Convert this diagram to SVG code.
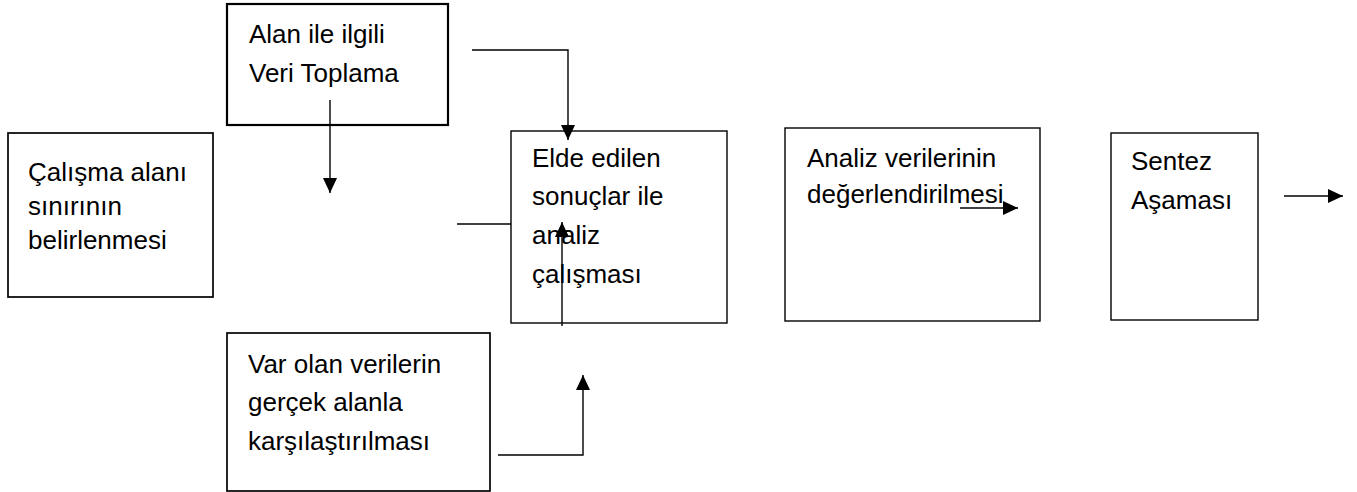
<svg xmlns="http://www.w3.org/2000/svg" width="1357" height="492" viewBox="0 0 1357 492">
<style>
  .box { fill: #ffffff; stroke: #000000; stroke-width: 1.4; }
  .thick { stroke-width: 2.2; }
  .mid { stroke-width: 1.7; }
  .lbl { font-family: "Liberation Sans", Arial, sans-serif; font-size: 26px; fill: #000000; }
  .conn { fill: none; stroke: #000000; stroke-width: 1.4; }
</style>
<defs>
  <marker id="arr" markerUnits="userSpaceOnUse" markerWidth="16" markerHeight="14" refX="15" refY="7" orient="auto">
    <path d="M0,0 L15,7 L0,14 Z" fill="#000000"/>
  </marker>
</defs>
<rect width="1357" height="492" fill="#ffffff"/>

<g id="node-calisma">
  <rect class="box mid" x="8" y="133" width="205" height="164"/>
  <text class="lbl" x="28" y="181">Çalışma alanı</text>
  <text class="lbl" x="28" y="215">sınırının</text>
  <text class="lbl" x="28" y="249">belirlenmesi</text>
</g>

<g id="node-alan">
  <rect class="box thick" x="227" y="4" width="221" height="121"/>
  <text class="lbl" x="249" y="43">Alan ile ilgili</text>
  <text class="lbl" x="249" y="82">Veri Toplama</text>
</g>

<g id="node-elde">
  <rect class="box" x="511" y="131" width="216" height="192"/>
  <text class="lbl" x="532" y="167">Elde edilen</text>
  <text class="lbl" x="532" y="205">sonuçlar ile</text>
  <text class="lbl" x="532" y="244">analiz</text>
  <text class="lbl" x="532" y="283">çalışması</text>
</g>

<g id="node-var">
  <rect class="box mid" x="227" y="333" width="263" height="158"/>
  <text class="lbl" x="248" y="373">Var olan verilerin</text>
  <text class="lbl" x="248" y="411">gerçek alanla</text>
  <text class="lbl" x="248" y="450">karşılaştırılması</text>
</g>

<g id="node-analiz">
  <rect class="box" x="785" y="128" width="255" height="193"/>
  <text class="lbl" x="807" y="167">Analiz verilerinin</text>
  <text class="lbl" x="807" y="203">değerlendirilmesi</text>
</g>

<g id="node-sentez">
  <rect class="box" x="1111" y="133" width="147" height="187"/>
  <text class="lbl" x="1131" y="170">Sentez</text>
  <text class="lbl" x="1131" y="209">Aşaması</text>
</g>

<g id="connectors">
  <line class="conn" x1="330" y1="100" x2="330" y2="193" marker-end="url(#arr)"/>
  <polyline class="conn" points="472,50 568,50 568,140" marker-end="url(#arr)"/>
  <line class="conn" x1="457" y1="224" x2="511" y2="224"/>
  <line class="conn" x1="562" y1="326" x2="562" y2="222" marker-end="url(#arr)"/>
  <polyline class="conn" points="498,455 583,455 583,375" marker-end="url(#arr)"/>
  <line class="conn" x1="960" y1="208" x2="1018" y2="208" marker-end="url(#arr)"/>
  <line class="conn" x1="1284" y1="196" x2="1343" y2="196" marker-end="url(#arr)"/>
</g>
</svg>
